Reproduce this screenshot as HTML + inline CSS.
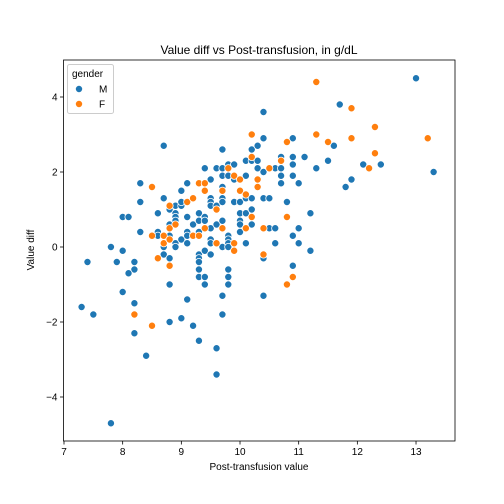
<!DOCTYPE html>
<html><head><meta charset="utf-8"><style>
html,body{margin:0;padding:0;background:#fff;}
svg{display:block;font-family:"Liberation Sans","DejaVu Sans",sans-serif;}
</style></head><body>
<svg id="chart" width="504" height="504" viewBox="0 0 504 504">
<rect x="0" y="0" width="504" height="504" fill="#fff"/>
<text x="259" y="54" text-anchor="middle" font-size="12" fill="#000">Value diff vs Post-transfusion, in g/dL</text>
<text x="259" y="470" text-anchor="middle" font-size="10" fill="#000">Post-transfusion value</text>
<text transform="translate(34,250) rotate(-90)" text-anchor="middle" font-size="10" fill="#000">Value diff</text>
<g id="points"></g>
<g id="axes"></g>
<g>
<rect x="67.5" y="64.5" width="46" height="49" rx="2" fill="#fff" fill-opacity="0.8" stroke="#ccc"/>
<text x="72" y="77" font-size="10" fill="#000">gender</text>
<circle cx="79" cy="89" r="3.6" fill="#1f77b4" stroke="#fff" stroke-width="0.8"/>
<text x="99" y="92.5" font-size="10" fill="#000">M</text>
<circle cx="79" cy="104" r="3.6" fill="#ff7f0e" stroke="#fff" stroke-width="0.8"/>
<text x="99" y="107.5" font-size="10" fill="#000">F</text>
</g>
</svg>
<script>
const xTicks=[7,8,9,10,11,12,13];
const yTicks=[-4,-2,0,2,4];
const maleX=[8.7,7.8,7.4,7.9,8.0,8.2,8.2,8.1,8.3,8.3,8.3,8.0,8.1,8.0,8.2,7.3,7.5,8.2,8.4,7.8,
8.7,8.6,8.6,8.6,8.7,8.7,8.8,8.8,8.8,8.8,8.8,8.8,8.9,8.9,8.9,8.9,8.9,8.9,
9.0,9.0,9.0,9.0,9.0,9.1,9.1,9.1,9.1,9.1,9.1,9.2,9.2,
9.3,9.3,9.3,9.3,9.3,9.3,9.3,9.3,9.3,9.4,9.4,9.4,9.4,9.4,9.4,
9.5,9.5,9.5,9.5,9.5,9.5,9.5,9.5,9.6,9.6,9.6,9.6,9.6,9.6,
9.7,9.7,9.7,9.7,9.7,9.7,9.7,9.7,9.7,9.7,9.8,9.8,9.8,9.8,9.8,9.8,9.8,9.8,9.8,
9.9,9.9,9.9,10.0,10.0,10.0,10.0,10.0,10.1,10.1,10.1,10.1,10.1,10.2,10.2,10.2,10.2,10.2,10.3,10.3,10.3,
10.4,10.4,10.4,10.4,10.4,10.4,10.5,10.5,10.6,10.6,10.6,10.7,10.7,10.7,10.7,10.8,
10.9,10.9,10.9,10.9,10.9,10.9,11.0,11.0,11.0,11.1,11.2,11.2,11.3,11.5,11.6,11.7,11.8,11.9,12.1,12.4,13.0,13.3];
const maleY=[2.7,0,-0.4,-0.4,-0.1,-0.4,-0.6,-0.7,0.4,1.2,1.7,0.8,0.8,-1.2,-1.5,-1.6,-1.8,-2.3,-2.9,-4.7,
1.3,0.9,0.4,0.3,0,-0.2,1.0,0.6,0.3,-0.3,-1.0,-2.0,1.1,0.9,0.8,0.7,0.1,0,
1.1,1.2,0.2,1.5,-1.9,1.7,0.8,0.4,0.3,0.1,-1.4,0.6,-2.1,
0.9,0.7,0.4,-0.2,-0.3,-0.4,-0.6,-0.8,-2.5,2.1,0.8,0.7,-0.1,-0.8,-1.0,
1.8,1.3,1.2,1.1,0.5,0.2,0.1,-0.2,2.1,1.1,0.6,0.1,-2.7,-3.4,
2.6,2.1,1.9,1.6,1.3,1.2,0.7,0,-1.3,-1.8,2.2,1.9,0.3,0.2,0.1,0,-0.6,-0.8,-1.0,
2.2,1.8,1.2,1.2,0.9,0.7,0.6,0.4,2.3,1.9,1.3,0.9,0.1,2.6,2.3,1.3,1.0,0.6,2.7,2.3,2.1,
3.6,2.9,2.0,1.3,-0.3,-1.3,1.3,0.5,2.1,0.5,0.1,2.4,2.1,1.9,1.7,1.2,
2.9,2.4,2.2,1.9,0.3,-0.5,1.7,0.5,0.1,2.4,0.9,-0.1,2.1,2.3,2.7,3.8,1.6,1.8,2.2,2.2,4.5,2.0];
const femaleX=[10.2,9.8,9.9,10.0,10.2,10.3,10.3,8.5,8.5,8.7,8.7,8.8,8.8,8.8,8.6,8.9,8.8,9.1,9.2,9.3,9.4,9.4,9.2,9.3,9.4,9.6,9.7,9.7,9.6,9.9,9.9,10.0,10.1,10.1,10.2,8.2,8.5,
10.4,10.5,10.7,10.8,10.8,10.8,10.9,11.3,11.3,11.5,11.9,11.9,12.2,12.3,12.3,13.2,10.4];
const femaleY=[3.0,2.1,1.9,1.8,2.4,1.8,1.6,1.6,0.3,0.3,0.1,0.5,0.2,-0.5,-0.3,0.6,1.1,1.2,1.3,1.7,1.7,1.5,0.3,0.3,0.5,1.0,1.5,0.5,0.1,0.1,-0.1,1.5,1.4,0.5,0.8,-1.8,-2.1,
-0.2,2.1,2.3,2.8,0.8,-1.0,-0.8,4.4,3.0,2.8,3.7,2.9,2.1,3.2,2.5,2.9,0.5];

const NS="http://www.w3.org/2000/svg";
const L=63.5,R=455,T=60,B=441;
function sx(v){return 64+(v-7)*58.67;}
function sy(v){return 247-v*37.5;}
const pts=document.getElementById('points');
function draw(xs,ys,color,name){
  for(let i=0;i<xs.length;i++){
    const c=document.createElementNS(NS,'circle');
    c.setAttribute('cx',sx(xs[i]));c.setAttribute('cy',sy(ys[i]));
    c.setAttribute('r',3.6);c.setAttribute('fill',color);
    c.setAttribute('stroke','#fff');c.setAttribute('stroke-width',0.8);
    
    
    pts.appendChild(c);
  }
}
draw(maleX,maleY,'#1f77b4','point-male');
draw(femaleX,femaleY,'#ff7f0e','point-female');

const ax=document.getElementById('axes');
const frame=document.createElementNS(NS,'rect');
frame.setAttribute('x',L);frame.setAttribute('y',T);frame.setAttribute('width',R-L);frame.setAttribute('height',B-T);
frame.setAttribute('fill','none');frame.setAttribute('stroke','#000');frame.setAttribute('stroke-width',0.8);


ax.appendChild(frame);
xTicks.forEach(t=>{
  const x=sx(t);
  const l=document.createElementNS(NS,'line');
  l.setAttribute('x1',x);l.setAttribute('x2',x);l.setAttribute('y1',B);l.setAttribute('y2',B+3.5);
  l.setAttribute('stroke','#000');l.setAttribute('stroke-width',0.8);
  
  
  ax.appendChild(l);
  const tx=document.createElementNS(NS,'text');
  tx.setAttribute('x',x);tx.setAttribute('y',B+14);tx.setAttribute('text-anchor','middle');tx.setAttribute('font-size','10');
  tx.textContent=t;
  
  
  ax.appendChild(tx);
});
yTicks.forEach(t=>{
  const y=sy(t);
  const l=document.createElementNS(NS,'line');
  l.setAttribute('x1',L-3.5);l.setAttribute('x2',L);l.setAttribute('y1',y);l.setAttribute('y2',y);
  l.setAttribute('stroke','#000');l.setAttribute('stroke-width',0.8);
  
  
  ax.appendChild(l);
  const tx=document.createElementNS(NS,'text');
  tx.setAttribute('x',L-6);tx.setAttribute('y',y+3.5);tx.setAttribute('text-anchor','end');tx.setAttribute('font-size','10');
  tx.textContent=(t<0?'\u2212'+Math.abs(t):String(t));
  
  
  ax.appendChild(tx);
});
</script>
</body></html>
